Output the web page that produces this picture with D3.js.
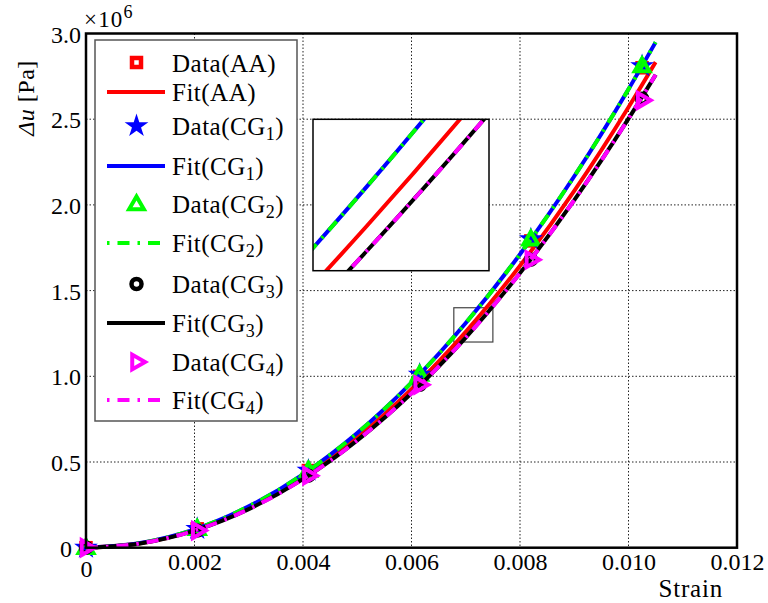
<!DOCTYPE html>
<html>
<head>
<meta charset="utf-8">
<script src="https://cdn.jsdelivr.net/npm/d3@7"></script>
<style>
  body { margin: 0; background: #fff; }
  svg { display: block; }
  svg text { font-family: "Liberation Serif", "DejaVu Serif", serif !important; fill: #000; }
</style>
</head>
<body>
<svg id="chart" width="768" height="603"></svg>
<script>
// Measured points (strain, Δu in 10^6 Pa)
const strainData = [0, 0.00205, 0.0041, 0.00615, 0.0082, 0.01025];
const dataAA  = [0, 0.11, 0.45, 1.00, 1.79, 2.80];
const dataCG1 = [0, 0.11, 0.45, 1.01, 1.80, 2.81];
const dataCG2 = [0, 0.11, 0.45, 1.01, 1.80, 2.81];
const dataCG3 = [0, 0.10, 0.42, 0.95, 1.68, 2.62];
const dataCG4 = [0, 0.10, 0.42, 0.95, 1.68, 2.61];

// Fitted curves sampled along the strain axis (Δu in 10^6 Pa)
const strainFit = [0, 0.001, 0.002, 0.003, 0.004, 0.005, 0.006, 0.007, 0.008, 0.009, 0.010, 0.0105];
const fitAA  = [0, 0.026, 0.103, 0.231, 0.411, 0.643, 0.925, 1.259, 1.645, 2.082, 2.570, 2.833];
const fitCG1 = [0, 0.027, 0.107, 0.241, 0.428, 0.669, 0.963, 1.311, 1.712, 2.167, 2.675, 2.949];
const fitCG2 = [0, 0.027, 0.107, 0.241, 0.428, 0.669, 0.963, 1.311, 1.712, 2.167, 2.675, 2.949];
const fitCG3 = [0, 0.025, 0.100, 0.225, 0.400, 0.626, 0.901, 1.226, 1.602, 2.028, 2.503, 2.759];
const fitCG4 = [0, 0.025, 0.100, 0.225, 0.400, 0.626, 0.901, 1.226, 1.602, 2.028, 2.503, 2.759];

// Axis ticks
const xTicks = [0, 0.002, 0.004, 0.006, 0.008, 0.010, 0.012];
const xTickLabels = ["0", "0.002", "0.004", "0.006", "0.008", "0.010", "0.012"];
const yTicks = [0, 0.5, 1.0, 1.5, 2.0, 2.5, 3.0];
const yTickLabels = ["0", "0.5", "1.0", "1.5", "2.0", "2.5", "3.0"];

// Zoomed window shown in the inset
const insetStrain = [0.00678, 0.0075];
const insetDu = [1.2, 1.4];

const FONT = "Liberation Serif, DejaVu Serif, serif";
const svg = d3.select("#chart");

const plot = { left: 86, right: 737, top: 33.5, bottom: 547.7 };
const x = d3.scaleLinear().domain([0, 0.012]).range([plot.left, plot.right]);
const y = d3.scaleLinear().domain([0, 3.0]).range([plot.bottom, plot.top]);

// series: data markers and fit lines, in drawing order
const series = [
  { kind: "data", label: ["Data(AA)"], values: dataAA, color: "#ff0000", marker: "square" },
  { kind: "fit",  label: ["Fit(AA)"], values: fitAA, color: "#ff0000", dash: null },
  { kind: "data", label: ["Data(CG", "1", ")"], values: dataCG1, color: "#0000ff", marker: "star" },
  { kind: "fit",  label: ["Fit(CG", "1", ")"], values: fitCG1, color: "#0000ff", dash: null },
  { kind: "data", label: ["Data(CG", "2", ")"], values: dataCG2, color: "#00ff00", marker: "triUp" },
  { kind: "fit",  label: ["Fit(CG", "2", ")"], values: fitCG2, color: "#00ff00", dash: "12,8,2.5,8" },
  { kind: "data", label: ["Data(CG", "3", ")"], values: dataCG3, color: "#000000", marker: "circle" },
  { kind: "fit",  label: ["Fit(CG", "3", ")"], values: fitCG3, color: "#000000", dash: null },
  { kind: "data", label: ["Data(CG", "4", ")"], values: dataCG4, color: "#ff00ff", marker: "triRight" },
  { kind: "fit",  label: ["Fit(CG", "4", ")"], values: fitCG4, color: "#ff00ff", dash: "12,8,2.5,8" }
];

function drawMarker(g, type, color, cx, cy) {
  const t = `translate(${cx},${cy})`;
  if (type === "square") {
    g.append("rect").attr("x", cx - 4.5).attr("y", cy - 4.5).attr("width", 9).attr("height", 9)
      .attr("fill", "none").attr("stroke", color).attr("stroke-width", 4.5);
  } else if (type === "star") {
    g.append("path").attr("d", d3.symbol(d3.symbolStar, 175)()).attr("transform", t)
      .attr("fill", color);
  } else if (type === "triUp") {
    g.append("path").attr("d", d3.symbol(d3.symbolTriangle, 95)()).attr("transform", t + " translate(0,1)")
      .attr("fill", "none").attr("stroke", color).attr("stroke-width", 4).attr("stroke-linejoin", "miter");
  } else if (type === "circle") {
    g.append("circle").attr("cx", cx).attr("cy", cy).attr("r", 5)
      .attr("fill", "none").attr("stroke", color).attr("stroke-width", 4.5);
  } else if (type === "triRight") {
    g.append("path").attr("d", d3.symbol(d3.symbolTriangle, 95)()).attr("transform", t + " rotate(90)")
      .attr("fill", "none").attr("stroke", color).attr("stroke-width", 4).attr("stroke-linejoin", "miter");
  }
}

// ---- grid ----
const grid = svg.append("g").attr("class", "grid");
xTicks.slice(1, -1).forEach(v => {
  grid.append("line").attr("x1", x(v)).attr("x2", x(v)).attr("y1", plot.top).attr("y2", plot.bottom)
    .attr("stroke", "#222").attr("stroke-width", 1).attr("stroke-dasharray", "1.5,2");
});
yTicks.slice(1, -1).forEach(v => {
  grid.append("line").attr("x1", plot.left).attr("x2", plot.right).attr("y1", y(v)).attr("y2", y(v))
    .attr("stroke", "#222").attr("stroke-width", 1).attr("stroke-dasharray", "1.5,2");
});

// ---- legend box ----
const legend = svg.append("g").attr("class", "legend").attr("font-family", FONT);
legend.append("rect").attr("x", 95).attr("y", 40).attr("width", 202).attr("height", 381)
  .attr("fill", "#fff").attr("stroke", "#555").attr("stroke-width", 1.5);
const legendRows = [62.5, 92, 126, 166, 204, 243, 284, 323, 362, 400];
series.forEach((s, i) => {
  const ry = legendRows[i];
  if (s.kind === "data") {
    drawMarker(legend, s.marker, s.color, 136.5, ry);
  } else {
    legend.append("line").attr("x1", 107).attr("x2", 165).attr("y1", ry).attr("y2", ry)
      .attr("stroke", s.color).attr("stroke-width", 4)
      .attr("stroke-dasharray", s.dash ? "2.5,8,12,8" : null);
  }
  const tx = legend.append("text").attr("x", 172).attr("y", ry + 9)
    .attr("font-size", 25).attr("letter-spacing", 0.5);
  tx.append("tspan").text(s.label[0]);
  if (s.label.length > 1) {
    tx.append("tspan").attr("font-size", 18).attr("dy", 5).text(s.label[1]);
    tx.append("tspan").attr("dy", -5).text(s.label[2]);
  }
});

// ---- zoom window outline in the main plot ----
svg.append("rect")
  .attr("x", x(insetStrain[0])).attr("y", y(insetDu[1]))
  .attr("width", x(insetStrain[1]) - x(insetStrain[0]))
  .attr("height", y(insetDu[0]) - y(insetDu[1]))
  .attr("fill", "none").attr("stroke", "#444").attr("stroke-width", 1.2);

// ---- curves and markers ----
function drawSeries(g, xs, ys, clip) {
  const line = d3.line().x(d => xs(d[0])).y(d => ys(d[1])).curve(d3.curveMonotoneX);
  series.forEach(s => {
    if (s.kind === "fit") {
      g.append("path").datum(strainFit.map((v, i) => [v, s.values[i]]))
        .attr("d", line).attr("fill", "none").attr("stroke", s.color).attr("stroke-width", 4)
        .attr("stroke-dasharray", s.dash);
    } else if (!clip) {
      s.values.forEach((v, i) => drawMarker(g, s.marker, s.color, xs(strainData[i]), ys(v)));
    }
  });
}
const main = svg.append("g").attr("class", "main");
drawSeries(main, x, y, false);

// ---- inset ----
const inset = { left: 313, right: 489, top: 119.3, bottom: 270.7 };
const xi = d3.scaleLinear().domain(insetStrain).range([inset.left, inset.right]);
const yi = d3.scaleLinear().domain(insetDu).range([inset.bottom, inset.top]);
svg.append("clipPath").attr("id", "insetClip").append("rect")
  .attr("x", inset.left).attr("y", inset.top)
  .attr("width", inset.right - inset.left).attr("height", inset.bottom - inset.top);
svg.append("rect").attr("x", inset.left).attr("y", inset.top)
  .attr("width", inset.right - inset.left).attr("height", inset.bottom - inset.top)
  .attr("fill", "#fff");
const insetG = svg.append("g").attr("clip-path", "url(#insetClip)");
drawSeries(insetG, xi, yi, true);
svg.append("rect").attr("x", inset.left).attr("y", inset.top)
  .attr("width", inset.right - inset.left).attr("height", inset.bottom - inset.top)
  .attr("fill", "none").attr("stroke", "#000").attr("stroke-width", 1.5);

// ---- axes frame ----
svg.append("rect").attr("x", plot.left).attr("y", plot.top)
  .attr("width", plot.right - plot.left).attr("height", plot.bottom - plot.top)
  .attr("fill", "none").attr("stroke", "#000").attr("stroke-width", 2.5);

// ---- tick labels ----
const xAxis = svg.append("g").attr("transform", `translate(0,${plot.bottom})`)
  .call(d3.axisBottom(x).tickValues(xTicks).tickSize(0).tickPadding(0)
    .tickFormat((d, i) => xTickLabels[i]));
xAxis.attr("font-family", FONT).attr("font-size", 24);
xAxis.select(".domain").remove();
xAxis.selectAll("text").attr("fill", "#000").attr("dy", null)
  .attr("y", (d, i) => i === 0 ? 29 : 22.5);

const yAxis = svg.append("g").attr("transform", `translate(${plot.left},0)`)
  .call(d3.axisLeft(y).tickValues(yTicks).tickSize(0).tickPadding(0)
    .tickFormat((d, i) => yTickLabels[i]));
yAxis.attr("font-family", FONT).attr("font-size", 24);
yAxis.select(".domain").remove();
yAxis.selectAll("text").attr("fill", "#000").attr("dy", null)
  .attr("x", (d, i) => i === 0 ? -14 : -5)
  .attr("y", 8.5);

// ---- axis titles ----
const mult = svg.append("text").attr("x", 84).attr("y", 27).attr("font-size", 23)
  .attr("letter-spacing", 1.2);
mult.append("tspan").text("×10");
mult.append("tspan").attr("font-size", 18).attr("dy", -9).text("6");

svg.append("text").attr("x", 723).attr("y", 597).attr("text-anchor", "end")
  .attr("font-size", 25).attr("letter-spacing", 0.8).text("Strain");

const yTitle = svg.append("text").attr("transform", "translate(34,98) rotate(-90)")
  .attr("text-anchor", "middle").attr("font-size", 24).attr("letter-spacing", 0.5);
yTitle.append("tspan").attr("font-style", "italic").text("Δu");
yTitle.append("tspan").text(" [Pa]");
</script>
</body>
</html>
